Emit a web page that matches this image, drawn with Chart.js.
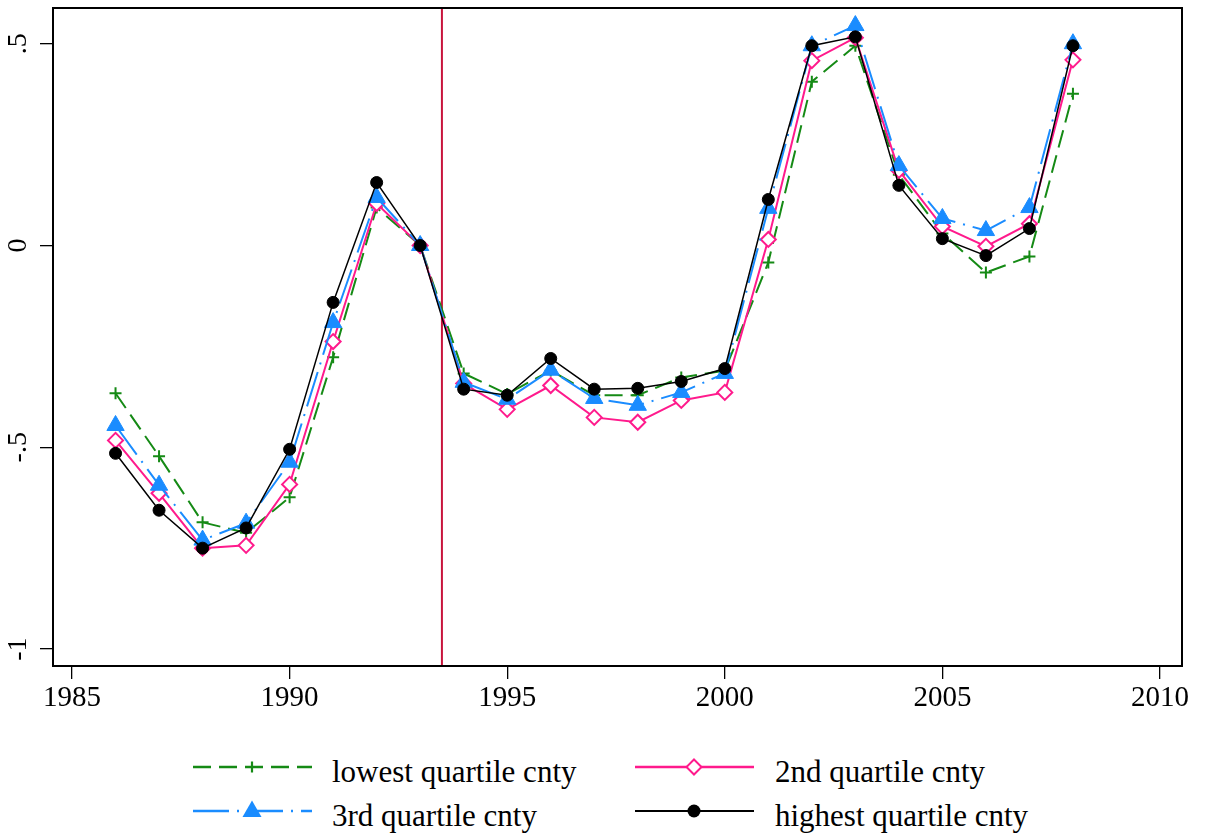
<!DOCTYPE html>
<html><head><meta charset="utf-8">
<script src="https://cdn.jsdelivr.net/npm/chart.js@4.4.0/dist/chart.umd.min.js"></script>
<style>
html,body{margin:0;padding:0;background:#fff;}
#wrap{position:relative;width:1207px;height:835px;overflow:hidden;background:#fff;}
#chartBox{position:absolute;left:0;top:0;width:1207px;height:730px;}
.lg-sample{position:absolute;overflow:visible;}
.lg-text{position:absolute;font-family:"Liberation Serif","Times New Roman",serif;font-size:31px;line-height:36px;color:#000;white-space:nowrap;}
</style></head>
<body>
<div id="wrap"><div id="chartBox"><canvas id="c"></canvas></div><div id="legend"></div></div>
<script>
// ---- data ----
const years = [1986,1987,1988,1989,1990,1991,1992,1993,1994,1995,1996,1997,1998,1999,2000,2001,2002,2003,2004,2005,2006,2007,2008];
const lowestQuartile  = [-0.366,-0.522,-0.686,-0.712,-0.624,-0.277,0.094,0,-0.317,-0.368,-0.310,-0.371,-0.371,-0.327,-0.310,-0.042,0.406,0.495,0.175,0.030,-0.067,-0.027,0.376];
const secondQuartile  = [-0.483,-0.614,-0.750,-0.743,-0.592,-0.238,0.104,0,-0.342,-0.406,-0.347,-0.426,-0.438,-0.384,-0.364,0.015,0.458,0.515,0.186,0.047,-0.002,0.054,0.460];
const thirdQuartile   = [-0.446,-0.594,-0.730,-0.688,-0.537,-0.191,0.119,0,-0.339,-0.381,-0.309,-0.379,-0.396,-0.364,-0.317,0.092,0.495,0.545,0.198,0.067,0.037,0.094,0.500];
const highestQuartile = [-0.515,-0.656,-0.750,-0.700,-0.505,-0.141,0.156,0,-0.356,-0.371,-0.280,-0.356,-0.354,-0.337,-0.305,0.114,0.495,0.517,0.149,0.017,-0.025,0.042,0.495];
const seriesLabels = ["lowest quartile cnty","2nd quartile cnty","3rd quartile cnty","highest quartile cnty"];
const xTickValues = [1985,1990,1995,2000,2005,2010];
const yTickValues = [-1,-0.5,0,0.5];
const yTickLabels = ["-1","-.5","0",".5"];
const referenceYear = 1993.5;

// ---- styles ----
const FONT = '"Liberation Serif","Times New Roman",serif';
const styles = [
  {color:'#158a15', width:2, dash:[18,8], point:'cross', radius:6, pw:2, fill:'#158a15'},
  {color:'#ff1a8c', width:2, dash:[], point:'rectRot', radius:7.5, pw:2, fill:'#ffffff'},
  {color:'#1a8cff', width:2, dash:[36,8,2,8], point:'triangle', radius:10, pw:1, fill:'#1a8cff'},
  {color:'#000000', width:1.5, dash:[], point:'circle', radius:6, pw:1, fill:'#000000'}
];
const seriesValues = [lowestQuartile, secondQuartile, thirdQuartile, highestQuartile];

const datasets = seriesValues.map((vals,i)=>({
  label: seriesLabels[i],
  data: years.map((yr,k)=>({x:yr, y:vals[k]})),
  borderColor: styles[i].color,
  borderWidth: styles[i].width,
  borderDash: styles[i].dash,
  backgroundColor: styles[i].fill,
  pointStyle: styles[i].point,
  pointRadius: styles[i].radius,
  pointBorderWidth: styles[i].pw,
  pointBorderColor: styles[i].color,
  pointBackgroundColor: styles[i].fill,
  tension: 0,
  fill: false,
  order: 4 - i
}));

const framePlugin = {
  id:'frame',
  beforeDatasetsDraw(chart){
    const {ctx, chartArea:a, scales:{x}} = chart;
    const px = x.getPixelForValue(referenceYear);
    ctx.save();
    ctx.strokeStyle = '#c8143c';
    ctx.lineWidth = 2;
    ctx.beginPath(); ctx.moveTo(px, a.top); ctx.lineTo(px, a.bottom); ctx.stroke();
    ctx.restore();
  },
  afterDatasetsDraw(chart){
    const {ctx, chartArea:a} = chart;
    ctx.save();
    ctx.strokeStyle = '#000';
    ctx.lineWidth = 2;
    ctx.strokeRect(a.left, a.top, a.right - a.left, a.bottom - a.top);
    ctx.restore();
  }
};

new Chart(document.getElementById('c'), {
  type:'line',
  data:{datasets},
  options:{
    responsive:true, maintainAspectRatio:false, animation:false,
    events:[],
    layout:{autoPadding:false, padding:{left:0, top:8, right:25, bottom:0}},
    plugins:{legend:{display:false}, tooltip:{enabled:false}},
    scales:{
      x:{
        type:'linear', min:1984.563, max:2010.506,
        afterBuildTicks(s){ s.ticks = xTickValues.map(v=>({value:v})); },
        afterFit(s){ s.height = 64; s.paddingLeft = 0; s.paddingRight = 0; },
        border:{display:false},
        grid:{drawOnChartArea:false, drawTicks:true, tickLength:13, color:'#000', lineWidth:1.3},
        ticks:{font:{family:FONT, size:29}, color:'#000', padding:2, maxRotation:0, autoSkip:false,
               callback:(v)=>String(v)}
      },
      y:{
        type:'linear', min:-1.042, max:0.5885,
        afterBuildTicks(s){ s.ticks = yTickValues.map(v=>({value:v})); },
        afterFit(s){ s.width = 53; s.paddingTop = 0; s.paddingBottom = 0; },
        border:{display:false},
        grid:{drawOnChartArea:false, drawTicks:true, tickLength:13, color:'#000', lineWidth:1.3},
        ticks:{font:{family:FONT, size:28}, color:'#000', padding:6, minRotation:90, maxRotation:90,
               crossAlign:'center', autoSkip:false,
               callback:(v)=>{ const i = yTickValues.indexOf(v); return i>=0 ? yTickLabels[i] : ''; }}
      }
    }
  },
  plugins:[framePlugin]
});

// ---- HTML legend ----
const legendPos = [
  {sx:193, cx:252, tx:332, ly:767},
  {sx:635, cx:694, tx:775, ly:767},
  {sx:193, cx:252, tx:332, ly:811},
  {sx:635, cx:694, tx:775, ly:811}
];
const legendOrder = [0,1,2,3];
const SW = 119;
function markerSvg(st, cx, cy){
  if(st.point==='cross') return `<path d="M${cx-5.5} ${cy}H${cx+5.5}M${cx} ${cy-5.5}V${cy+5.5}" stroke="${st.color}" stroke-width="2.2"/>`;
  if(st.point==='rectRot') return `<path d="M${cx} ${cy-7.5}L${cx+7.5} ${cy}L${cx} ${cy+7.5}L${cx-7.5} ${cy}Z" fill="#fff" stroke="${st.color}" stroke-width="2"/>`;
  if(st.point==='triangle') return `<path d="M${cx-9.5} ${cy+6}L${cx+9.5} ${cy+6}L${cx} ${cy-10.5}Z" fill="${st.color}"/>`;
  return `<circle cx="${cx}" cy="${cy}" r="6.5" fill="${st.color}"/>`;
}
const lg = document.getElementById('legend');
legendOrder.forEach((si, k)=>{
  const p = legendPos[k], st = styles[si];
  const svg = document.createElementNS('http://www.w3.org/2000/svg','svg');
  svg.setAttribute('class','lg-sample');
  svg.setAttribute('width', SW); svg.setAttribute('height', 30);
  svg.style.left = p.sx + 'px'; svg.style.top = (p.ly - 15) + 'px';
  const dash = st.dash.length ? `stroke-dasharray="${st.dash.join(' ')}"` : '';
  svg.innerHTML = `<line x1="0" y1="15" x2="${SW}" y2="15" stroke="${st.color}" stroke-width="${st.width+0.5}" ${dash}/>` + markerSvg(st, p.cx - p.sx, 15);
  lg.appendChild(svg);
  const t = document.createElement('div');
  t.className = 'lg-text';
  t.textContent = seriesLabels[si];
  t.style.left = p.tx + 'px';
  t.style.top = (p.ly - 13.5) + 'px';
  lg.appendChild(t);
});
</script>
</body></html>
